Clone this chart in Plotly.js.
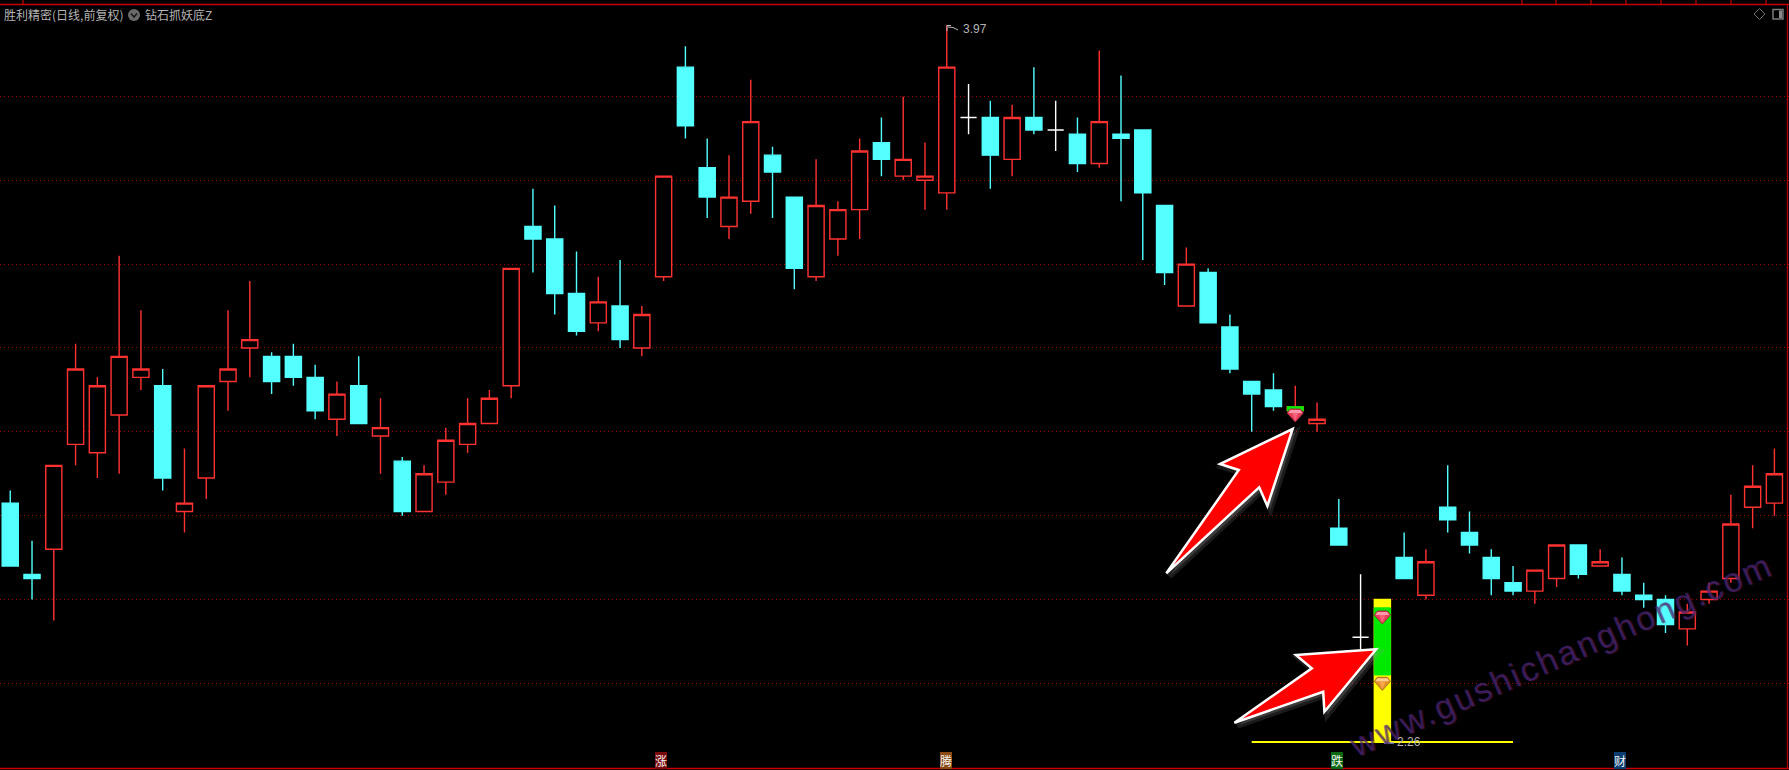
<!DOCTYPE html>
<html>
<head>
<meta charset="utf-8">
<script src="https://cdn.plot.ly/plotly-3.0.1.min.js"></script>
<style>
html,body{margin:0;padding:0;background:#000;overflow:hidden}
#chart{width:1789px;height:770px}
.annotation[data-index="0"] text{letter-spacing:2.4px}
</style>
</head>
<body>
<div id="chart"></div>
<script>
// kind: r = rising (hollow red), c = falling (cyan), w = doji (white)
const kinds = ['c','c','r','r','r','r','r','c','r','r','r','r','c','c','c','r','c','r','c','r','r','r','r','r','c','c','c','r','c','r',
  'r','c','c','r','r','c','c','r','r','r','c','r','r','r','w','c','r','c','w','c','r','c','c','c','r','c','c','c','c','r','r','c','w',
  'r','c','r','c','c','c','c','r','r','c','r','c','c','c','r','r','r','r','r'];
const highs = [2.86,2.74,2.92,3.21,3.13,3.42,3.29,3.15,2.96,3.11,3.29,3.36,3.19,3.21,3.16,3.12,3.18,3.08,2.94,2.92,3.01,3.08,3.10,3.39,3.58,3.54,3.43,3.37,3.41,3.30,
  3.61,3.92,3.70,3.66,3.84,3.68,3.56,3.65,3.55,3.70,3.75,3.80,3.69,3.97,3.83,3.79,3.78,3.87,3.79,3.75,3.91,3.85,3.72,3.54,3.44,3.39,3.28,3.12,3.14,3.11,3.07,2.84,2.66,
  2.60,2.76,2.72,2.92,2.81,2.72,2.68,2.67,2.73,2.73,2.72,2.70,2.64,2.61,2.59,2.64,2.85,2.92,2.96];
const tops = [2.83,2.66,2.92,3.15,3.11,3.18,3.15,3.11,2.83,3.11,3.15,3.22,3.18,3.18,3.13,3.09,3.11,3.01,2.93,2.90,2.98,3.02,3.08,3.39,3.49,3.46,3.33,3.31,3.30,3.28,
  3.61,3.87,3.63,3.56,3.74,3.66,3.56,3.54,3.53,3.67,3.69,3.65,3.61,3.87,3.75,3.75,3.75,3.75,3.72,3.71,3.74,3.71,3.72,3.54,3.40,3.38,3.25,3.12,3.10,3.06,3.03,2.77,2.51,
  2.60,2.70,2.69,2.82,2.76,2.70,2.64,2.67,2.73,2.73,2.69,2.66,2.61,2.60,2.57,2.62,2.78,2.87,2.90];
const bottoms = [2.68,2.65,2.72,2.97,2.95,3.04,3.13,2.89,2.81,2.89,3.12,3.20,3.12,3.13,3.05,3.03,3.02,2.99,2.81,2.81,2.88,2.97,3.02,3.11,3.46,3.33,3.24,3.26,3.22,3.20,
  3.37,3.73,3.56,3.49,3.55,3.62,3.39,3.37,3.46,3.53,3.65,3.61,3.60,3.57,3.75,3.66,3.65,3.72,3.72,3.64,3.64,3.70,3.57,3.38,3.30,3.26,3.15,3.09,3.06,3.05,3.02,2.73,2.51,
  2.26,2.65,2.61,2.79,2.73,2.65,2.62,2.62,2.65,2.66,2.68,2.62,2.60,2.54,2.53,2.60,2.65,2.82,2.83];
const lows = [2.68,2.60,2.55,2.92,2.89,2.90,3.10,2.86,2.76,2.84,3.05,3.13,3.09,3.11,3.03,2.99,3.02,2.90,2.80,2.81,2.85,2.95,3.02,3.08,3.38,3.28,3.23,3.24,3.20,3.18,
  3.36,3.70,3.51,3.46,3.52,3.51,3.34,3.36,3.42,3.46,3.61,3.60,3.53,3.53,3.71,3.58,3.61,3.71,3.67,3.62,3.63,3.55,3.41,3.35,3.30,3.26,3.14,3.00,3.05,3.03,3.00,2.73,2.48,
  2.26,2.65,2.60,2.76,2.71,2.61,2.61,2.59,2.63,2.65,2.68,2.61,2.58,2.52,2.49,2.59,2.64,2.77,2.80];

const gridPrices = [2.4,2.6,2.8,3.0,3.2,3.4,3.6,3.8];
const signalCandles = [59,63];
const signalTops = [3.06,2.58];
const signalBottoms = [3.05,2.42];
const supportStart = 57, supportEnd = 69, supportPrice = 2.26;
const yellowBarIndex = 63;
const pinkGemIdx = [59,63], pinkGemPrice = [3.04,2.558];
const orangeGemIdx = [63], orangeGemPrice = [2.40];
const highIdx = 43, highPrice = 3.97, lowIdx = 63, lowPrice = 2.26;
const bottomLabels = ['涨','腾','跌','财'];

const W = 1789, H = 770;
const RED = '#ff3232', CYAN = '#54ffff';
const idx = kinds.map((_,i)=>i);
function pick(k){ return idx.filter(i=>kinds[i]===k && i!==yellowBarIndex); }
function candle(ids, col, fill, openArr, closeArr){
  return {type:'candlestick', x:ids, open:ids.map(i=>openArr[i]), close:ids.map(i=>closeArr[i]),
    high:ids.map(i=>highs[i]), low:ids.map(i=>lows[i]),
    increasing:{line:{color:col,width:1.4},fillcolor:fill},
    decreasing:{line:{color:col,width:1.4},fillcolor:fill},
    whiskerwidth:0, showlegend:false, hoverinfo:'skip'};
}
const traces = [
  candle(pick('r'), RED, '#000000', bottoms, tops),
  candle(pick('c'), CYAN, CYAN, tops, bottoms),
  candle(pick('w'), '#ffffff', '#ffffff', bottoms, tops),
  candle([yellowBarIndex], '#ffff00', '#ffff00', bottoms, tops),
  {type:'candlestick', x:signalCandles, open:signalBottoms, close:signalTops, high:signalTops, low:signalBottoms,
    increasing:{line:{color:'#00ea00',width:1},fillcolor:'#00ea00'}, decreasing:{line:{color:'#00ea00',width:1},fillcolor:'#00ea00'},
    whiskerwidth:0, showlegend:false, hoverinfo:'skip'},
  {type:'scatter', mode:'lines', x:[supportStart,supportEnd], y:[supportPrice,supportPrice],
    line:{color:'#ffff00',width:2}, showlegend:false, hoverinfo:'skip'}
];

const X = p=>p/W, Y = p=>1-p/H;
function pathPx(pts, ox, oy){
  return 'M'+pts.map(p=>X(p[0]+(ox||0))+','+Y(p[1]+(oy||0))).join(' L')+' Z';
}
function pxShape(pts, o){ return Object.assign({type:'path',xref:'paper',yref:'paper',path:pathPx(pts),line:{width:0}},o); }
function pxLine(x0,y0,x1,y1,col,w){ return {type:'line',xref:'paper',yref:'paper',x0:X(x0),x1:X(x1),y0:Y(y0),y1:Y(y1),line:{color:col,width:w}}; }

const arrow1 = [[1292.6,429],[1267.4,506],[1259.2,487.3],[1166.3,573.3],[1238.8,470],[1220,464]];
const arrow2 = [[1376.2,649.3],[1324.4,711.7],[1323.2,691.7],[1234.4,722.7],[1311.8,668.3],[1295.9,655]];
function arrowShapes(pts){
  return [
    {type:'path',xref:'paper',yref:'paper',path:pathPx(pts,3,3),fillcolor:'rgba(150,150,150,0.25)',line:{color:'rgba(150,150,150,0.18)',width:6}},
    {type:'path',xref:'paper',yref:'paper',path:pathPx(pts),fillcolor:'#ff0000',line:{color:'#ffffff',width:2.5}}
  ];
}
// gem offsets are in pixels, y pointing up from the anchor
function gemPart(i,p,pts,fill,line){
  return {type:'path',xsizemode:'pixel',ysizemode:'pixel',xref:'x',yref:'y',xanchor:i,yanchor:p,
    path:'M'+pts.map(q=>q[0]+','+q[1]).join(' L')+' Z',fillcolor:fill,line:{color:line||fill,width:line?1:0}};
}
function gem(i,p,body,light,mid,edge){
  return [
    gemPart(i,p,[[-5,6],[5,6],[8,2],[0,-7],[-8,2]],body,edge),
    gemPart(i,p,[[-5,5],[5,5],[7,2],[-7,2]],light),
    gemPart(i,p,[[-3,2],[3,2],[0,-6]],mid)
  ];
}
let shapes = [
  pxLine(0,4.5,W,4.5,'#c80000',1.6),
  pxLine(0,768.5,W,768.5,'#c80000',1.6),
  pxLine(1787.5,4,1787.5,769,'#a80000',1.4)
];
[23,1522,1556,1591,1626,1661,1696,1731,1766].forEach(x=>shapes.push(pxLine(x,0,x,4.5,'#c80000',1.2)));
pinkGemIdx.forEach((g,k)=>{ shapes = shapes.concat(gem(g,pinkGemPrice[k],'#e8405a','#ff98a8','#f8607c','#a02840')); });
orangeGemIdx.forEach((g,k)=>{ shapes = shapes.concat(gem(g,orangeGemPrice[k],'#e8902c','#ffd090','#f5a850','#a86a20')); });
shapes = shapes.concat(arrowShapes(arrow1), arrowShapes(arrow2));
// header icon
shapes.push({type:'circle',xref:'paper',yref:'paper',x0:X(128),x1:X(140),y0:Y(9),y1:Y(21),fillcolor:'#6a6a6a',line:{width:0}});
shapes.push({type:'path',xref:'paper',yref:'paper',path:'M'+X(131)+','+Y(13.5)+' L'+X(134)+','+Y(17)+' L'+X(137)+','+Y(13.5),line:{color:'#1a1a1a',width:1.6}});
// right icons
shapes.push(pxShape([[1759.5,8.5],[1765,14],[1759.5,19.5],[1754,14]],{fillcolor:'rgba(0,0,0,0)',line:{color:'#6e6e6e',width:1}}));
shapes.push({type:'rect',xref:'paper',yref:'paper',x0:X(1773),x1:X(1783),y0:Y(9.5),y1:Y(19),fillcolor:'rgba(0,0,0,0)',line:{color:'#7a7a7a',width:1.5}});
shapes.push({type:'rect',xref:'paper',yref:'paper',x0:X(1779),x1:X(1782),y0:Y(10.5),y1:Y(18),fillcolor:'#8a8a8a',line:{width:0}});
// high / low leader marks
shapes.push({type:'path',xref:'paper',yref:'paper',path:'M'+X(947)+','+Y(31)+' L'+X(947)+','+Y(25.5)+' L'+X(951)+','+Y(25.5)+' M'+X(948)+','+Y(27)+' L'+X(953)+','+Y(27.5)+' L'+X(958)+','+Y(30),line:{color:'#bdbdbd',width:1}});
shapes.push(pxLine(1384,743,1394,743,'#8c9be0',1.4));

const labelCfg = [[661,'#7c0c0c'],[946,'#8a4a12'],[1337,'#0a6a14'],[1620,'#0c3c70']];
const CJK = '"Noto Sans CJK SC", sans-serif';
const annotations = [
  {xref:'paper',yref:'paper',x:X(1560),y:Y(655),xanchor:'center',yanchor:'middle',text:'www.gushichanghong.com',showarrow:false,textangle:-23.7,
   font:{family:'"Liberation Sans", sans-serif',size:34,color:'rgba(70,40,125,0.68)',shadow:'1px 1px 0 rgba(110,20,60,0.6)'}},
  {xref:'paper',yref:'paper',x:X(2),y:Y(14),xanchor:'left',yanchor:'middle',text:'胜利精密(日线,前复权)',showarrow:false,font:{family:CJK,size:12,color:'#b4b4b4'}},
  {xref:'paper',yref:'paper',x:X(143),y:Y(14),xanchor:'left',yanchor:'middle',text:'钻石抓妖底Z',showarrow:false,font:{family:CJK,size:12,color:'#b4b4b4'}},
  {x:highIdx,y:highPrice,xanchor:'left',yanchor:'middle',xshift:14,yshift:-4,text:String(highPrice),showarrow:false,font:{family:'"Liberation Sans", sans-serif',size:12,color:'#b4b4b4'}},
  {x:lowIdx,y:lowPrice,xanchor:'left',yanchor:'middle',xshift:13,yshift:0,text:String(lowPrice),showarrow:false,font:{family:'"Liberation Sans", sans-serif',size:12,color:'#b4b4b4'}}
];
bottomLabels.forEach((t,i)=>annotations.push({xref:'paper',yref:'paper',x:X(labelCfg[i][0]),y:Y(760),xanchor:'center',yanchor:'middle',text:t,showarrow:false,
  bgcolor:labelCfg[i][1],borderpad:0,borderwidth:0,font:{family:CJK,size:12,color:'#f4f4f4'}}));

const layout = {
  width:W,height:H,margin:{l:0,r:0,t:0,b:0,pad:0},
  paper_bgcolor:'#000',plot_bgcolor:'#000',showlegend:false,
  boxgap:0.26,boxgroupgap:0,boxmode:'overlay',
  xaxis:{type:'linear',range:[-0.47,81.67],showgrid:false,zeroline:false,showticklabels:false,ticks:'',showline:false,rangeslider:{visible:false}},
  yaxis:{type:'linear',range:[2.1932,4.0302],tickmode:'array',tickvals:gridPrices,showticklabels:false,ticks:'',zeroline:false,showline:false,
    showgrid:true,gridcolor:'#a00000',gridwidth:1,griddash:'1px,3px'},
  shapes:shapes,annotations:annotations
};
Plotly.newPlot('chart',traces,layout,{staticPlot:true,displayModeBar:false});
</script>
</body>
</html>
